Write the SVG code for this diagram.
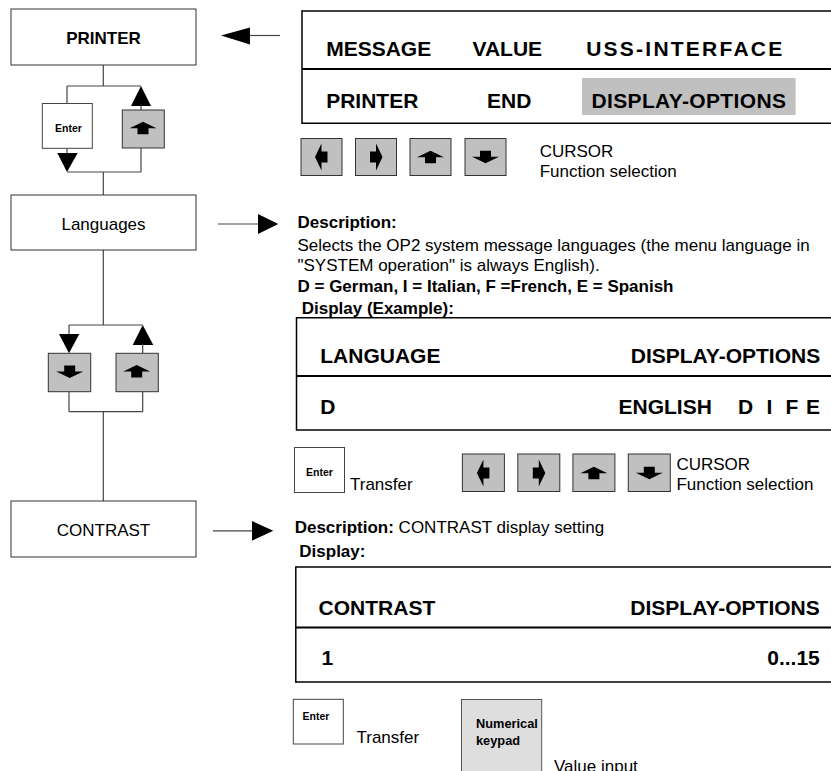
<svg xmlns="http://www.w3.org/2000/svg" xmlns:xlink="http://www.w3.org/1999/xlink" width="831" height="771" viewBox="0 0 831 771">
<style>
text{font-family:"Liberation Sans",Arial,Helvetica,sans-serif;fill:#000}
.node{fill:#fff;stroke:#333;stroke-width:1}
.key{fill:#c0c0c0;stroke:#333;stroke-width:1}
.ekey{fill:#fff;stroke:#444;stroke-width:1}
.ln{stroke:#444;stroke-width:1.2;fill:none}
.tri{fill:#000}
.glyph{fill:#000}
.lbl{font-size:17px;text-anchor:middle}
.lblb{font-size:17px;font-weight:bold;text-anchor:middle}
.ent{font-size:10.5px;font-weight:bold;text-anchor:middle}
.body{font-size:17px}
.bold{font-weight:bold}
.disp{font-size:21px;font-weight:bold}
.end{text-anchor:end}
.frame{stroke:#000;fill:none}
</style>
<defs>
<polygon id="gUp" class="glyph" points="0,-6.5 13.5,0 5.5,0 5.5,6 -5.5,6 -5.5,0 -13.5,0"/>
<polygon id="gDown" class="glyph" points="0,6.5 13.5,0 5.5,0 5.5,-6 -5.5,-6 -5.5,0 -13.5,0"/>
<polygon id="gLeft" class="glyph" points="-6.5,0 0,-13.5 0,-5.5 6,-5.5 6,5.5 0,5.5 0,13.5"/>
<polygon id="gRight" class="glyph" points="6.5,0 0,-13.5 0,-5.5 -6,-5.5 -6,5.5 0,5.5 0,13.5"/>
</defs>

<g id="connectors">
  <line class="ln" x1="103.3" y1="65" x2="103.3" y2="86"/>
  <line class="ln" x1="67" y1="86" x2="141" y2="86"/>
  <line class="ln" x1="67" y1="86" x2="67" y2="103.5"/>
  <line class="ln" x1="67" y1="148" x2="67" y2="154"/>
  <polygon class="tri" points="57.3,153 77.7,153 67,172"/>
  <line class="ln" x1="67" y1="172" x2="141" y2="172"/>
  <line class="ln" x1="141" y1="172" x2="141" y2="148"/>
  <line class="ln" x1="141" y1="110" x2="141" y2="105"/>
  <polygon class="tri" points="131,106 151,106 141,86"/>
  <line class="ln" x1="103.3" y1="172" x2="103.3" y2="195"/>

  <line class="ln" x1="103.3" y1="250" x2="103.3" y2="325"/>
  <line class="ln" x1="69" y1="325" x2="142.7" y2="325"/>
  <line class="ln" x1="69" y1="325" x2="69" y2="335"/>
  <polygon class="tri" points="59,334 79.3,334 69,353.3"/>
  <polygon class="tri" points="132.7,345 153.3,345 142.7,325"/>
  <line class="ln" x1="142.7" y1="344" x2="142.7" y2="353.3"/>
  <line class="ln" x1="69" y1="391.7" x2="69" y2="411.7"/>
  <line class="ln" x1="142.7" y1="391.7" x2="142.7" y2="411.7"/>
  <line class="ln" x1="69" y1="411.7" x2="142.7" y2="411.7"/>
  <line class="ln" x1="103.3" y1="411.7" x2="103.3" y2="501"/>

  <line class="ln" x1="249" y1="35.5" x2="280" y2="35.5"/>
  <polygon class="tri" points="221,35.5 250,27.5 250,44.5"/>
  <line class="ln" x1="218" y1="224" x2="259" y2="224"/>
  <polygon class="tri" points="258,214 278.3,224 258,234"/>
  <line class="ln" x1="213" y1="530.8" x2="253" y2="530.8"/>
  <polygon class="tri" points="252,521 273.3,530.8 252,540.7"/>
</g>

<g id="node-printer">
  <rect class="node" x="11" y="9" width="185" height="56"/>
  <text class="lblb" x="103.5" y="44">PRINTER</text>
</g>
<g id="key-enter-1">
  <rect class="ekey" x="42.3" y="103.5" width="50" height="44.8"/>
  <text class="ent" x="68.5" y="131.5">Enter</text>
</g>
<g id="key-up-1">
  <rect class="key" x="122.3" y="110" width="42" height="38"/>
  <use href="#gUp" x="143" y="128.3"/>
</g>
<g id="node-languages">
  <rect class="node" x="11" y="195" width="185" height="55"/>
  <text class="lbl" x="103.5" y="229.5">Languages</text>
</g>
<g id="key-down-2">
  <rect class="key" x="48.3" y="353.3" width="42.4" height="38.4"/>
  <use href="#gDown" x="69.7" y="371.5"/>
</g>
<g id="key-up-2">
  <rect class="key" x="116" y="353.3" width="42.3" height="38.4"/>
  <use href="#gUp" x="136.7" y="371.5"/>
</g>
<g id="node-contrast">
  <rect class="node" x="11" y="501" width="185" height="56"/>
  <text class="lbl" x="103.5" y="536">CONTRAST</text>
</g>

<g id="display-1">
  <rect x="582" y="78" width="213.6" height="37" fill="#c0c0c0"/>
  <line class="frame" stroke-width="1.5" x1="302" y1="11" x2="831" y2="11"/>
  <line class="frame" stroke-width="2" x1="302" y1="69" x2="831" y2="69"/>
  <line class="frame" stroke-width="1.5" x1="302" y1="123.3" x2="831" y2="123.3"/>
  <line class="frame" stroke-width="1.5" x1="302" y1="10.3" x2="302" y2="124"/>
  <text class="disp" x="326.2" y="56">MESSAGE</text>
  <text class="disp" x="472.5" y="56">VALUE</text>
  <text class="disp" x="586.2" y="56" textLength="196" lengthAdjust="spacing">USS-INTERFACE</text>
  <text class="disp" x="326.2" y="107.7">PRINTER</text>
  <text class="disp" x="487" y="107.7">END</text>
  <text class="disp" x="591.4" y="107.7" textLength="194.6" lengthAdjust="spacing">DISPLAY-OPTIONS</text>
</g>
<g id="cursor-keys-1">
  <rect class="key" x="301" y="138.5" width="41" height="37"/>
  <use href="#gLeft" x="321.5" y="157"/>
  <rect class="key" x="355.5" y="138.5" width="41" height="37"/>
  <use href="#gRight" x="376" y="157"/>
  <rect class="key" x="410" y="138.5" width="41" height="37"/>
  <use href="#gUp" x="430.5" y="157.3"/>
  <rect class="key" x="465" y="138.5" width="41" height="37"/>
  <use href="#gDown" x="485.5" y="156.7"/>
  <text class="body" x="539.7" y="156.7">CURSOR</text>
  <text class="body" x="539.7" y="176.7">Function selection</text>
</g>

<g id="desc-languages">
  <text class="body bold" x="297.5" y="228">Description:</text>
  <text class="body" x="297.5" y="251">Selects the OP2 system message languages (the menu language in</text>
  <text class="body" x="297.5" y="271">"SYSTEM operation" is always English).</text>
  <text class="body bold" x="297.5" y="292">D = German, I = Italian, F =French, E = Spanish</text>
  <text class="body bold" x="301.7" y="314">Display (Example):</text>
</g>
<g id="display-2">
  <line class="frame" stroke-width="1.5" x1="296.5" y1="317.7" x2="831" y2="317.7"/>
  <line class="frame" stroke-width="2" x1="296.5" y1="376" x2="831" y2="376"/>
  <line class="frame" stroke-width="1.5" x1="296.5" y1="430" x2="831" y2="430"/>
  <line class="frame" stroke-width="1.5" x1="296.5" y1="317" x2="296.5" y2="430.7"/>
  <text class="disp" x="320.3" y="363.3">LANGUAGE</text>
  <text class="disp end" x="820.2" y="363.3">DISPLAY-OPTIONS</text>
  <text class="disp" x="320.3" y="414">D</text>
  <text class="disp" x="618.5" y="414">ENGLISH</text>
  <text class="disp" x="738" y="414">D</text>
  <text class="disp" x="766.5" y="414">I</text>
  <text class="disp" x="785.5" y="414">F</text>
  <text class="disp" x="806" y="414">E</text>
</g>
<g id="keys-2">
  <rect class="ekey" x="294.5" y="447.5" width="50" height="45"/>
  <text class="ent" x="319.5" y="476">Enter</text>
  <text class="body" x="350" y="490">Transfer</text>
  <rect class="key" x="462.4" y="454" width="42" height="37.5"/>
  <use href="#gLeft" x="483.4" y="473"/>
  <rect class="key" x="517.8" y="454" width="42" height="37.5"/>
  <use href="#gRight" x="538.8" y="473"/>
  <rect class="key" x="572.9" y="454" width="42" height="37.5"/>
  <use href="#gUp" x="593.9" y="473.2"/>
  <rect class="key" x="628.3" y="454" width="42" height="37.5"/>
  <use href="#gDown" x="649.3" y="472.8"/>
  <text class="body" x="676.4" y="470">CURSOR</text>
  <text class="body" x="676.4" y="490">Function selection</text>
</g>

<g id="desc-contrast">
  <text class="body" x="294.7" y="533"><tspan class="bold">Description:</tspan> CONTRAST display setting</text>
  <text class="body bold" x="299.3" y="557">Display:</text>
</g>
<g id="display-3">
  <line class="frame" stroke-width="1.5" x1="295.8" y1="567" x2="831" y2="567"/>
  <line class="frame" stroke-width="2" x1="295.8" y1="627.5" x2="831" y2="627.5"/>
  <line class="frame" stroke-width="1.5" x1="295.8" y1="682" x2="831" y2="682"/>
  <line class="frame" stroke-width="1.5" x1="295.8" y1="566.3" x2="295.8" y2="682.7"/>
  <text class="disp" x="318.6" y="615">CONTRAST</text>
  <text class="disp end" x="819.8" y="615">DISPLAY-OPTIONS</text>
  <text class="disp" x="321.4" y="665">1</text>
  <text class="disp end" x="819.8" y="665">0...15</text>
</g>
<g id="keys-3">
  <rect class="ekey" x="293.3" y="699.3" width="50" height="44.7"/>
  <text class="ent" x="316" y="719.5">Enter</text>
  <text class="body" x="356.5" y="743.3">Transfer</text>
  <rect x="461.5" y="699.5" width="80.2" height="80" fill="#dedede" stroke="#555" stroke-width="1"/>
  <text font-size="12.8" font-weight="bold" x="476" y="728">Numerical</text>
  <text font-size="12.8" font-weight="bold" x="476" y="745">keypad</text>
  <text class="body" x="554" y="772">Value input</text>
</g>
</svg>
